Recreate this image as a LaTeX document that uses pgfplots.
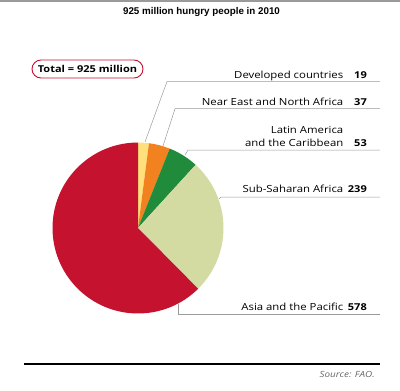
\documentclass[border=0pt]{standalone}
\usepackage{pgfplots}
\pgfplotsset{compat=1.18}
\usepackage{pgfplotstable}
\usepackage{fontspec}
\setmainfont[FakeStretch=1.16]{Open Sans}
\newfontfamily\titlefont{Liberation Sans}
\definecolor{pie0}{HTML}{FFE07A}
\definecolor{pie1}{HTML}{F2821F}
\definecolor{pie2}{HTML}{1F8B3B}
\definecolor{pie3}{HTML}{D3DAA2}
\definecolor{pie4}{HTML}{C4122F}
\definecolor{leader}{HTML}{9A9A9A}
\definecolor{totred}{HTML}{C4122F}

\pgfplotstableread[col sep=comma]{
name,value
Developed countries,19
Near East and North Africa,37
Latin America and the Caribbean,53
Sub-Saharan Africa,239
Asia and the Pacific,578
}\piedata

\begin{document}
\begin{tikzpicture}
% compute angles from the data
\def\pietotal{0}
\pgfplotsforeachungrouped \i in {0,...,4}{%
  \pgfplotstablegetelem{\i}{value}\of\piedata
  \let\pv\pgfplotsretval
  \pgfmathsetmacro\pietotal{\pietotal+\pv}%
}
\def\piecum{0}
\pgfplotsforeachungrouped \i in {0,...,4}{%
  \pgfplotstablegetelem{\i}{value}\of\piedata
  \let\pv\pgfplotsretval
  \pgfmathsetmacro\aA{90-(\piecum/\pietotal)*360}%
  \pgfmathsetmacro\piecum{\piecum+\pv}%
  \pgfmathsetmacro\aB{90-(\piecum/\pietotal)*360}%
  \expandafter\xdef\csname pieA\i\endcsname{\aA}%
  \expandafter\xdef\csname pieB\i\endcsname{\aB}%
}
\begin{axis}[x=1pt, y=1pt, y dir=reverse, xmin=0, xmax=400, ymin=0, ymax=391,
  hide axis, clip=false, scale only axis]
\path (axis cs:0,0) rectangle (axis cs:400,391);
\fill[leader] (axis cs:0,0) rectangle (axis cs:400,1.6);
\node[anchor=base, font=\titlefont\fontsize{9.8}{11}\selectfont\bfseries] at (axis cs:201.5,14) {925 million hungry people in 2010};
\node[draw=totred, line width=0.9pt, rounded corners=9pt, minimum width=111pt, minimum height=18pt, inner sep=0pt,
  font=\fontsize{9.5}{11}\selectfont\bfseries] at (axis cs:87.5,69) {Total = 925 million};
% pie wedges
\pgfplotsinvokeforeach{0,...,4}{%
  \edef\piecmd{\noexpand\fill[pie#1] (axis cs:138,228) -- ++(\csname pieA#1\endcsname:85.5pt) arc[start angle=\csname pieA#1\endcsname, end angle=\csname pieB#1\endcsname, radius=85.5pt] -- cycle;}%
  \piecmd
}
% leader lines
\draw[leader, line width=0.5pt] (axis cs:145,142) -- (axis cs:167,81.5) -- (axis cs:380,81.5);
\draw[leader, line width=0.5pt] (axis cs:163,146) -- (axis cs:175,108.7) -- (axis cs:380,108.7);
\draw[leader, line width=0.5pt] (axis cs:185,155) -- (axis cs:188,150) -- (axis cs:380,150);
\draw[leader, line width=0.5pt] (axis cs:219,199) -- (axis cs:221,197) -- (axis cs:380,197);
\draw[leader, line width=0.5pt] (axis cs:178,304) -- (axis cs:178,314.5) -- (axis cs:380,314.5);
% labels
\tikzset{lab/.style={anchor=base east, inner sep=0pt, font=\fontsize{9.8}{11}\selectfont},
         num/.style={anchor=base east, inner sep=0pt, font=\fontsize{9.5}{11}\selectfont\bfseries}}
\node[lab] at (axis cs:343.5,78) {Developed countries};
\node[num] at (axis cs:367,78) {19};
\node[lab] at (axis cs:343.5,105.5) {Near East and North Africa};
\node[num] at (axis cs:367,105.5) {37};
\node[lab] at (axis cs:343.5,133.3) {Latin America};
\node[lab] at (axis cs:343.5,146) {and the Caribbean};
\node[num] at (axis cs:367,146) {53};
\node[lab] at (axis cs:343.5,192.5) {Sub-Saharan Africa};
\node[num] at (axis cs:367,192.5) {239};
\node[lab] at (axis cs:343.5,310) {Asia and the Pacific};
\node[num] at (axis cs:367,310) {578};
% bottom rule and source
\draw[black, line width=1.4pt] (axis cs:24,364) -- (axis cs:380,364);
\node[anchor=base east, inner sep=0pt, text=black!60, font=\fontsize{8.5}{10}\selectfont\itshape] at (axis cs:375,377) {Source: FAO.};
\end{axis}
\end{tikzpicture}
\end{document}
